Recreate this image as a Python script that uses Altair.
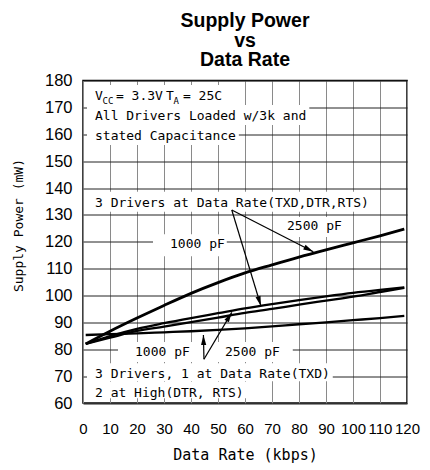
import math
import altair as alt
import pandas as pd

# ---------------- data ----------------
rate_kbps = [1, 10, 20, 30, 40, 50, 60, 70, 80, 90, 100, 110, 119]
three_at_rate_2500pf = [82.0, 86.7, 91.6, 96.3, 100.8, 104.8, 108.4, 111.4, 114.3, 117.0, 119.6, 122.2, 124.7]
three_at_rate_1000pf = [82.0, 84.9, 87.6, 89.7, 91.6, 93.4, 95.2, 96.8, 98.3, 99.7, 101.0, 102.1, 103.0]
one_at_rate_2500pf = [82.0, 84.3, 86.8, 88.4, 90.1, 91.8, 93.5, 95.0, 96.6, 98.1, 99.6, 101.3, 102.8]
one_at_rate_1000pf = [85.3, 85.6, 85.9, 86.3, 86.7, 87.2, 87.8, 88.5, 89.3, 90.0, 90.8, 91.6, 92.4]

x_ticks = list(range(0, 121, 10))
y_ticks = list(range(60, 181, 10))

# annotation texts with anchor (kbps, mW at text baseline)
note_text = ["V", "CC", "= 3.3V", "T", "A", "= 25C",
             "All Drivers Loaded w/3k and", "stated Capacitance",
             "3 Drivers at Data Rate(TXD,DTR,RTS)", "2500 pF", "1000 pF",
             "1000 pF", "2500 pF",
             "3 Drivers, 1 at Data Rate(TXD)", "2 at High(DTR, RTS)"]
note_x = [4.44, 7.22, 12.2, 30.74, 33.52, 37.0, 4.44, 4.44, 4.44, 75.56, 32.22,
          19.26, 52.59, 4.44, 4.44]
note_y = [172.74, 171.26, 172.74, 172.74, 171.26, 172.74, 165.3, 157.86, 133.04,
          124.37, 117.56, 77.49, 77.49, 69.19, 62.35]
note_size = [13, 9, 13, 13, 9, 13, 13, 13, 13, 13, 13, 13, 13, 13, 13]

# arrows: start (kbps, mW) -> tip (kbps, mW)
arrow_x1 = [55.1, 55.1, 44.8, 44.8]
arrow_y1 = [131.8, 131.8, 76.3, 76.3]
arrow_x2 = [85.3, 65.9, 44.6, 55.1]
arrow_y2 = [116.3, 96.1, 85.3, 93.7]

# ---------------- layout / style ----------------
W, H = 324, 322.5
XMIN, XMAX, YMIN, YMAX = 0, 120, 60, 180
PX = W / (XMAX - XMIN)
PY = H / (YMAX - YMIN)
MONO = "DejaVu Sans Mono"
CHAR = 0.602

# white backgrounds behind text lines: (first, last, pad_left, pad_right, above, below) px
box_spec = [(0, 5, 8, 3, 15, 5), (6, 6, 8, 3, 15, 5), (7, 7, 8, 3, 15, 5),
            (8, 8, 8, 3, 15, 5), (9, 9, 3, 3, 13, 7), (10, 10, 17, 2, 14, 8),
            (11, 12, 17, 13, 14, 6), (13, 13, 8, 3, 15, 3), (14, 14, 8, 3, 15, 1.5)]
boxes = []
for a, b, pl, pr, up, dn in box_spec:
    x1 = note_x[a] - pl / PX
    x2 = note_x[b] + (len(note_text[b]) * CHAR * note_size[b] + pr) / PX
    boxes.append({"x1": x1, "x2": x2,
                  "y1": note_y[a] - dn / PY, "y2": note_y[a] + up / PY})
box_df = pd.DataFrame(boxes)

series = [("3 drivers at rate, 2500 pF", three_at_rate_2500pf, 2.8),
          ("3 drivers at rate, 1000 pF", three_at_rate_1000pf, 2.3),
          ("1 at rate, 2500 pF", one_at_rate_2500pf, 2.3),
          ("1 at rate, 1000 pF", one_at_rate_1000pf, 2.3)]
rows = []
for name, vals, sw in series:
    for r, v in zip(rate_kbps, vals):
        rows.append({"series": name, "rate": r, "power": v, "sw": sw})
line_df = pd.DataFrame(rows)

note_df = pd.DataFrame({"text": note_text, "x": note_x, "y": note_y, "size": note_size})

arrow_df = pd.DataFrame({"x1": arrow_x1, "y1": arrow_y1, "x2": arrow_x2, "y2": arrow_y2})
angles = []
for x1, y1, x2, y2 in zip(arrow_x1, arrow_y1, arrow_x2, arrow_y2):
    dx = (x2 - x1) * PX
    dy = -(y2 - y1) * PY
    angles.append(math.degrees(math.atan2(dx, -dy)) % 360)
arrow_df["angle"] = angles

xscale = alt.Scale(domain=[XMIN, XMAX], nice=False, zero=False)
yscale = alt.Scale(domain=[YMIN, YMAX], nice=False, zero=False)
xaxis = alt.Axis(values=x_ticks, grid=True, gridColor="#8a8a8a", gridWidth=1,
                 ticks=False, domain=False, labelFlush=False, labelOverlap=False,
                 labelFont="Liberation Sans", labelFontSize=15, labelColor="black",
                 labelPadding=18, title="Data Rate (kbps)", titleFont=MONO,
                 titleFontSize=15, titleFontWeight="normal", titleColor="black",
                 titleY=56, titleBaseline="alphabetic")
yaxis = alt.Axis(values=y_ticks, grid=True, gridColor="#222222", gridWidth=1,
                 ticks=False, domain=False, labelFlush=False, labelOverlap=False,
                 labelFont="Liberation Sans", labelFontSize=16.5, labelColor="black",
                 labelPadding=11, title="Supply Power (mW)", titleFont=MONO,
                 titleFontSize=13, titleFontWeight="normal", titleColor="black",
                 titleX=-65, titleY=144.5, titleAngle=270, titleAlign="center",
                 titleBaseline="middle")


def X(f):
    return alt.X(f, type="quantitative", scale=xscale, axis=xaxis)


def Y(f):
    return alt.Y(f, type="quantitative", scale=yscale, axis=yaxis)


box_layer = alt.Chart(box_df).mark_rect(color="white", opacity=1).encode(
    x=X("x1"), x2="x2", y=Y("y1"), y2="y2")

line_layer = alt.Chart(line_df).mark_line(color="black", interpolate="monotone").encode(
    x=X("rate"), y=Y("power"), detail="series:N",
    strokeWidth=alt.StrokeWidth("sw:Q", scale=None, legend=None))

rule_layer = alt.Chart(arrow_df).mark_rule(color="black", strokeWidth=1.2).encode(
    x=X("x1"), x2="x2", y=Y("y1"), y2="y2")

head_layer = alt.Chart(arrow_df).mark_point(
    shape="M0,0L-0.26,1L0.26,1Z", filled=True, color="black", opacity=1, size=400
).encode(x=X("x2"), y=Y("y2"), angle=alt.Angle("angle:Q", scale=None))

text_layer = alt.Chart(note_df).mark_text(
    align="left", baseline="alphabetic", font=MONO, color="black"
).encode(x=X("x"), y=Y("y"), text="text:N",
         size=alt.Size("size:Q", scale=None, legend=None))

chart = alt.layer(box_layer, line_layer, rule_layer, head_layer, text_layer).properties(
    width=W, height=H,
    title=alt.TitleParams(text=["Supply Power", "vs", "Data Rate"],
                          font="Liberation Sans", fontSize=19.5, fontWeight="bold",
                          lineHeight=19.5, anchor="middle", color="black", offset=2),
    padding={"left": 75, "top": 72.5, "right": 15, "bottom": 62},
    autosize=alt.AutoSizeParams(type="none"),
    background="white",
).configure_view(stroke="black", strokeWidth=1.5)

chart.save("out.html", embed_options={"renderer": "svg", "actions": False})
